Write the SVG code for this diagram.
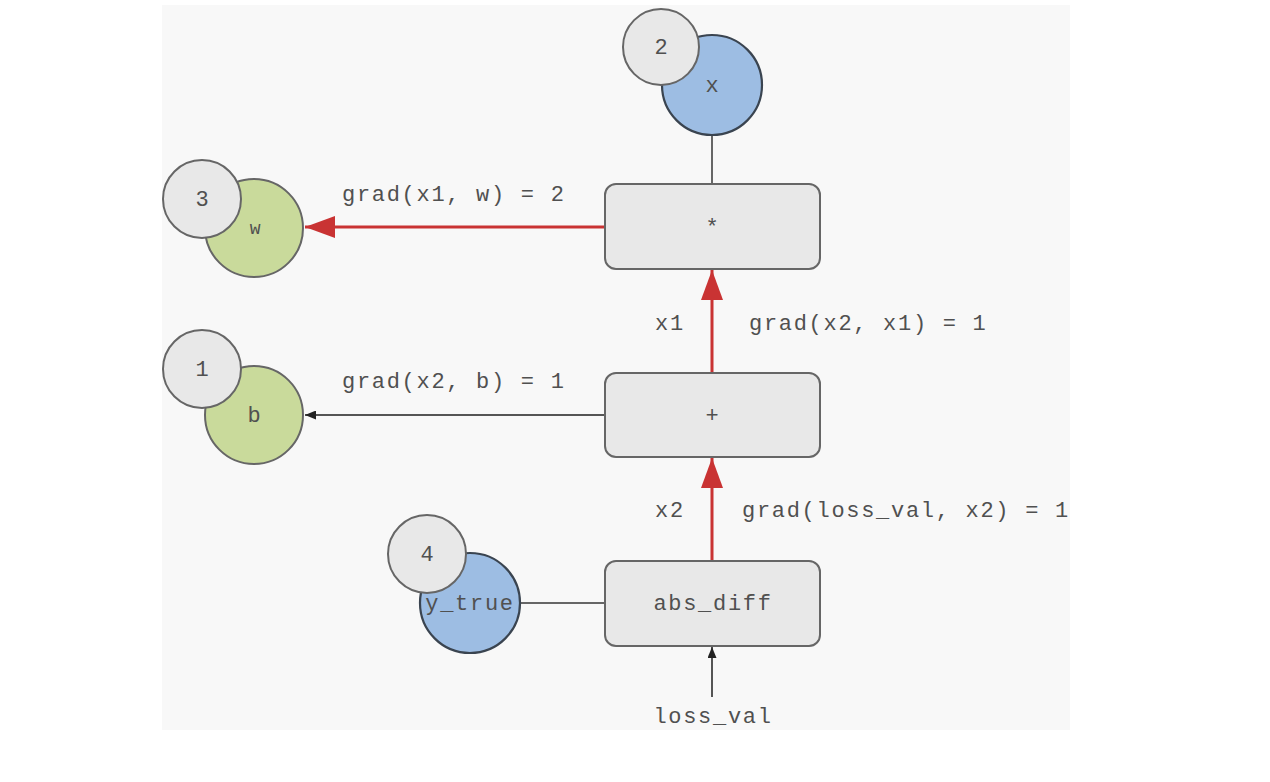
<svg xmlns="http://www.w3.org/2000/svg" width="1270" height="782" viewBox="0 0 1270 782">
<style>
.t{font-family:"Liberation Mono","Courier New",monospace;font-size:22px;fill:#505050;letter-spacing:1.7px}
.m{text-anchor:middle}
.box{fill:#e8e8e8;stroke:#666;stroke-width:2}
.num{fill:#e8e8e8;stroke:#666;stroke-width:2}
.blue{fill:#9dbde3;stroke:#3a4450;stroke-width:2.2}
.green{fill:#c9da9b;stroke:#666;stroke-width:2}
.gl{stroke:#666;stroke-width:2;fill:none}
.red{stroke:#c93333;stroke-width:3;fill:none}
.blk{stroke:#555;stroke-width:2;fill:none}
</style>
<defs>
<clipPath id="panel"><rect x="162" y="5" width="908" height="725"/></clipPath>
<marker id="ar" markerUnits="userSpaceOnUse" markerWidth="30" markerHeight="22" refX="30" refY="11" orient="auto"><path d="M0,0 L30,11 L0,22 Z" fill="#c93333"/></marker>
<marker id="ab" markerUnits="userSpaceOnUse" markerWidth="11" markerHeight="9" refX="11" refY="4.5" orient="auto"><path d="M0,0 L11,4.5 L0,9 Z" fill="#222"/></marker>
</defs>
<rect width="1270" height="782" fill="#fff"/>
<rect x="162" y="5" width="908" height="725" fill="#f8f8f8"/>
<g clip-path="url(#panel)">
<g id="connectors">
<line class="gl" x1="712" y1="135" x2="712" y2="184"/>
<line class="red" x1="605" y1="227" x2="305" y2="227" marker-end="url(#ar)"/>
<line class="red" x1="712" y1="373" x2="712" y2="270" marker-end="url(#ar)"/>
<line class="blk" x1="605" y1="415" x2="305" y2="415" marker-end="url(#ab)"/>
<line class="red" x1="712" y1="561" x2="712" y2="458" marker-end="url(#ar)"/>
<line class="gl" x1="520" y1="603" x2="605" y2="603"/>
<line class="blk" x1="712" y1="697" x2="712" y2="647" marker-end="url(#ab)"/>
<text class="t" x="342" y="201">grad(x1, w) = 2</text>
<text class="t" x="655" y="330">x1</text>
<text class="t" x="749" y="330">grad(x2, x1) = 1</text>
<text class="t" x="342" y="388">grad(x2, b) = 1</text>
<text class="t" x="655" y="517">x2</text>
<text class="t" x="742" y="517">grad(loss_val, x2) = 1</text>
<text class="t m" x="713" y="723">loss_val</text>
</g>
<g id="node-x">
<circle class="blue" cx="712" cy="85" r="50"/>
<text class="t m" x="713" y="92">x</text>
<circle class="num" cx="661" cy="47" r="38"/>
<text class="t m" x="662" y="54">2</text>
</g>
<g id="node-mul">
<rect class="box" x="605" y="184" width="215" height="85" rx="11"/>
<text class="t m" x="713" y="234">*</text>
</g>
<g id="node-w">
<circle class="green" cx="254" cy="228" r="49"/>
<text class="t m" x="256" y="234" style="font-size:18px">w</text>
<circle class="num" cx="202" cy="199" r="39"/>
<text class="t m" x="203" y="206">3</text>
</g>
<g id="node-add">
<rect class="box" x="605" y="373" width="215" height="84" rx="11"/>
<text class="t m" x="713" y="422">+</text>
</g>
<g id="node-b">
<circle class="green" cx="254" cy="415" r="49"/>
<text class="t m" x="255" y="422">b</text>
<circle class="num" cx="202" cy="369" r="39"/>
<text class="t m" x="203" y="376">1</text>
</g>
<g id="node-absdiff">
<rect class="box" x="605" y="561" width="215" height="85" rx="11"/>
<text class="t m" x="713" y="610">abs_diff</text>
</g>
<g id="node-ytrue">
<circle class="blue" cx="470" cy="603" r="50"/>
<text class="t m" x="470" y="610">y_true</text>
<circle class="num" cx="427" cy="554" r="39"/>
<text class="t m" x="428" y="561">4</text>
</g>
</g>
</svg>
